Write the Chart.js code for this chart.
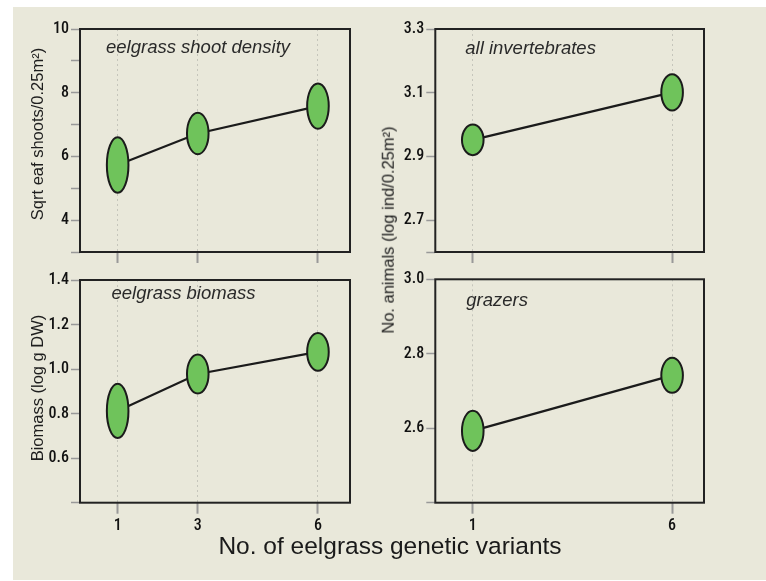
<!DOCTYPE html>
<html>
<head>
<meta charset="utf-8">
<script src="https://cdn.jsdelivr.net/npm/chart.js@4.4.1/dist/chart.umd.min.js"></script>
<style>
  html, body { margin: 0; padding: 0; background: #fff; }
  body { width: 766px; height: 581px; position: relative; overflow: hidden; font-family: "Liberation Sans", Arial, sans-serif; }
  #bg { position: absolute; left: 13px; top: 7px; width: 753px; height: 573px; background: #e9e8da; }
  canvas { position: absolute; }
  .ytitle { position: absolute; white-space: nowrap; font-size: 16.5px; line-height: 1; color: #1e1e1e;
            transform: translate(-50%, -50%) rotate(-90deg); }
  #xtitle { position: absolute; left: 390px; top: 534px; transform: translateX(-50%); white-space: nowrap;
            font-size: 24.5px; line-height: 1; color: #1a1a1a; }
</style>
</head>
<body>
<div id="bg"></div>
<canvas id="c1" width="383" height="270" style="left:0;top:0"></canvas>
<canvas id="c2" width="383" height="270" style="left:383px;top:0"></canvas>
<canvas id="c3" width="383" height="321" style="left:0;top:260px"></canvas>
<canvas id="c4" width="383" height="321" style="left:383px;top:260px"></canvas>
<div class="ytitle" style="left:37px;top:134px">Sqrt eaf shoots/0.25m²)</div>
<div class="ytitle" style="left:37px;top:388px">Biomass (log g DW)</div>
<div class="ytitle" style="left:388px;top:230px">No. animals (log ind/0.25m²)</div>
<div id="xtitle">No. of eelgrass genetic variants</div>

<script>
// genetic variant treatments
const variants3 = [1, 3, 6];
const variants2 = [1, 6];

// means and error (half height of each ellipse)
const shootDensity = [5.73, 6.72, 7.58];
const shootErr = [0.87, 0.65, 0.71];
const invertebrates = [2.952, 3.101];
const invertErr = [0.048, 0.057];
const biomass = [0.812, 0.978, 1.077];
const biomassErr = [0.122, 0.088, 0.085];
const grazers = [2.593, 2.742];
const grazerErr = [0.054, 0.047];

// y ticks / labelled ticks
const shootTicks = [3, 4, 5, 6, 7, 8, 9, 10];
const shootLabels = [4, 6, 8, 10];
const invertTicks = [2.6, 2.7, 2.9, 3.1, 3.3];
const invertLabels = [2.7, 2.9, 3.1, 3.3];
const biomassTicks = [0.4, 0.6, 0.8, 1.0, 1.2, 1.4];
const biomassLabels = [0.6, 0.8, 1.0, 1.2, 1.4];
const grazerTicks = [2.4, 2.6, 2.8, 3.0];
const grazerLabels = [2.6, 2.8, 3.0];

const tickFont = { family: '"Roboto Condensed", "Liberation Sans", sans-serif', size: 16, weight: '500' };

// ellipses, frame and the italic panel name
const panelPlugin = {
    id: 'panel',
    beforeDatasetsDraw(chart, args, opts) {
        const { ctx, chartArea: a } = chart;
        ctx.save();
        ctx.lineWidth = 2;
        ctx.strokeStyle = '#222';
        ctx.strokeRect(a.left, a.top, a.right - a.left, a.bottom - a.top);
        ctx.font = 'italic 18.5px "Liberation Sans", Arial, sans-serif';
        ctx.fillStyle = '#2a2a2a';
        ctx.textBaseline = 'alphabetic';
        ctx.fillText(opts.label, a.left + opts.dx, a.top + opts.dy);
        ctx.restore();
    },
    afterDatasetsDraw(chart, args, opts) {
        const ctx = chart.ctx;
        const yScale = chart.scales.y;
        const ds = chart.data.datasets[0];
        ctx.save();
        chart.getDatasetMeta(0).data.forEach((pt, i) => {
            const ry = Math.abs(yScale.getPixelForValue(ds.data[i].y + opts.err[i]) - pt.y);
            ctx.beginPath();
            ctx.ellipse(pt.x, pt.y, 10.8, ry, 0, 0, Math.PI * 2);
            ctx.fillStyle = '#6fc35b';
            ctx.fill();
            ctx.lineWidth = 2;
            ctx.strokeStyle = '#1b1b1b';
            ctx.stroke();
        });
        ctx.restore();
    }
};

function makePanel(id, xs, ys, err, yTicks, yLabels, label, dx, dy, geo) {
    new Chart(document.getElementById(id), {
        type: 'scatter',
        data: {
            datasets: [{
                data: xs.map((x, i) => ({ x: x, y: ys[i] })),
                showLine: true,
                borderColor: '#1b1b1b',
                borderWidth: 2.2,
                pointRadius: 0
            }]
        },
        options: {
            responsive: false,
            animation: false,
            layout: { padding: { top: geo.top, right: geo.right, left: 0, bottom: 0 } },
            plugins: {
                legend: { display: false },
                tooltip: { enabled: false },
                panel: { label: label, dx: dx, dy: dy, err: err }
            },
            scales: {
                x: {
                    type: 'linear',
                    min: 0.06,
                    max: 6.8,
                    afterBuildTicks: s => { s.ticks = xs.map(v => ({ value: v })); },
                    afterFit: s => { s.height = geo.xh; },
                    ticks: { display: geo.showX, font: tickFont, color: '#111', padding: 3, maxRotation: 0 },
                    grid: { color: '#c5c5bb', lineWidth: 1, drawTicks: true, tickLength: 11,
                            tickColor: '#999', tickWidth: 2, tickBorderDash: [] },
                    border: { display: false, dash: [2, 3] }
                },
                y: {
                    type: 'linear',
                    min: yTicks[0],
                    max: yTicks[yTicks.length - 1],
                    afterBuildTicks: s => { s.ticks = yTicks.map(v => ({ value: v })); },
                    afterFit: s => { s.width = geo.yw; },
                    ticks: {
                        font: tickFont, color: '#111', padding: 2, autoSkip: false,
                        callback: v => yLabels.some(l => Math.abs(l - v) < 1e-9) ? (Number.isInteger(yLabels[0]) ? String(v) : v.toFixed(1)) : ''
                    },
                    grid: { drawOnChartArea: false, drawTicks: true, tickLength: 9,
                            tickColor: '#999', tickWidth: 1.5 },
                    border: { display: false }
                }
            }
        },
        plugins: [panelPlugin]
    });
}

makePanel('c1', variants3, shootDensity, shootErr, shootTicks, shootLabels,
    'eelgrass shoot density', 26, 24, { top: 29, right: 33, xh: 18, yw: 80, showX: false });
makePanel('c2', variants2, invertebrates, invertErr, invertTicks, invertLabels,
    'all invertebrates', 30, 25, { top: 29, right: 62, xh: 18, yw: 52.3, showX: false });
makePanel('c3', variants3, biomass, biomassErr, biomassTicks, biomassLabels,
    'eelgrass biomass', 31.5, 19, { top: 20, right: 33, xh: 78.3, yw: 80, showX: true });
makePanel('c4', variants2, grazers, grazerErr, grazerTicks, grazerLabels,
    'grazers', 31, 27, { top: 19.3, right: 62, xh: 78.3, yw: 52.3, showX: true });
</script>
</body>
</html>
